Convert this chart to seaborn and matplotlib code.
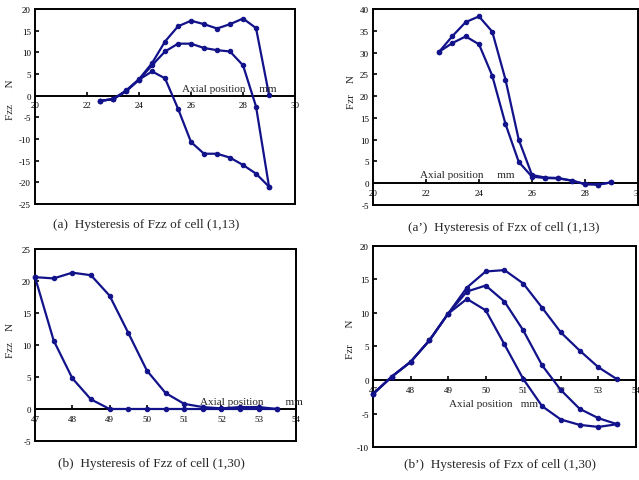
import matplotlib
matplotlib.use("Agg")
import matplotlib.pyplot as plt
import seaborn as sns
import pandas as pd

sns.set_theme(style="white")
plt.rcParams['font.family'] = ['Liberation Serif', 'DejaVu Serif']

# ---------------- data ----------------
# (a) Fzz of cell (1,13)
a_x_up = [22.5, 23, 23.5, 24, 24.5, 25, 25.5, 26, 26.5, 27, 27.5, 28, 28.5, 29]
a_y_up = [-1.2, -0.8, 1.2, 3.8, 7.5, 12.5, 16.0, 17.3, 16.5, 15.5, 16.5, 17.8, 15.6, 0.2]
a_x_mid = [22.5, 23, 23.5, 24, 24.5, 25, 25.5, 26, 26.5, 27, 27.5, 28, 28.5, 29]
a_y_mid = [-1.2, -0.8, 1.0, 3.7, 7.0, 10.2, 12.0, 12.0, 11.0, 10.5, 10.2, 7.0, -2.5, -21.0]
a_x_low = [22.5, 23, 23.5, 24, 24.5, 25, 25.5, 26, 26.5, 27, 27.5, 28, 28.5, 29]
a_y_low = [-1.2, -0.8, 1.0, 3.7, 5.6, 4.0, -3.0, -10.7, -13.4, -13.4, -14.3, -16.0, -18.0, -21.0]

# (a') Fzx of cell (1,13)
ap_x_up = [22.5, 23, 23.5, 24, 24.5, 25, 25.5, 26, 26.5, 27, 27.5, 28, 28.5, 29]
ap_y_up = [30.2, 33.8, 37.0, 38.3, 34.8, 23.8, 10.0, 1.9, 1.3, 1.2, 0.6, -0.2, -0.3, 0.2]
ap_x_low = [22.5, 23, 23.5, 24, 24.5, 25, 25.5, 26, 26.5, 27, 27.5, 28, 28.5, 29]
ap_y_low = [30.2, 32.2, 33.7, 31.9, 24.7, 13.6, 4.9, 1.5, 1.2, 1.1, 0.6, -0.2, -0.3, 0.2]

# (b) Fzz of cell (1,30)
b_x_up = [47, 47.5, 48, 48.5, 49, 49.5, 50, 50.5, 51, 51.5, 52, 52.5, 53, 53.5]
b_y_up = [20.6, 20.4, 21.3, 20.9, 17.7, 11.9, 6.0, 2.5, 0.8, 0.3, 0.1, 0.3, 0.3, 0.0]
b_x_low = [47, 47.5, 48, 48.5, 49, 49.5, 50, 50.5, 51, 51.5, 52, 52.5, 53, 53.5]
b_y_low = [20.6, 10.7, 4.8, 1.5, 0.0, 0.0, 0.0, 0.0, 0.0, 0.0, 0.0, 0.0, 0.0, 0.0]

# (b') Fzx of cell (1,30)
bp_x_up = [47, 47.5, 48, 48.5, 49, 49.5, 50, 50.5, 51, 51.5, 52, 52.5, 53, 53.5]
bp_y_up = [-2.1, 0.5, 2.7, 5.9, 9.9, 13.8, 16.2, 16.4, 14.4, 10.8, 7.1, 4.4, 1.9, 0.1]
bp_x_mid = [47, 47.5, 48, 48.5, 49, 49.5, 50, 50.5, 51, 51.5, 52, 52.5, 53, 53.5]
bp_y_mid = [-2.1, 0.5, 2.7, 5.9, 9.9, 13.2, 14.1, 11.7, 7.4, 2.2, -1.5, -4.3, -5.7, -6.6]
bp_x_low = [47, 47.5, 48, 48.5, 49, 49.5, 50, 50.5, 51, 51.5, 52, 52.5, 53, 53.5]
bp_y_low = [-2.1, 0.5, 2.7, 5.9, 9.9, 12.1, 10.4, 5.3, 0.15, -3.9, -5.9, -6.7, -7.0, -6.6]

a_xticks = [20, 22, 24, 26, 28, 30]
a_yticks = [-25, -20, -15, -10, -5, 0, 5, 10, 15, 20]
ap_yticks = [-5, 0, 5, 10, 15, 20, 25, 30, 35, 40]
b_xticks = [47, 48, 49, 50, 51, 52, 53, 54]
b_yticks = [-5, 0, 5, 10, 15, 20, 25]
bp_yticks = [-10, -5, 0, 5, 10, 15, 20]

captions = ["(a)  Hysteresis of Fzz of cell (1,13)",
            "(a\u2019)  Hysteresis of Fzx of cell (1,13)",
            "(b)  Hysteresis of Fzz of cell (1,30)",
            "(b\u2019)  Hysteresis of Fzx of cell (1,30)"]
ylabels = ["Fzz      N", "Fzr    N", "Fzz    N", "Fzr      N"]
xlabel_txt = ["Axial position     mm", "Axial position     mm",
              "Axial position        mm", "Axial position   mm"]

COL = "#12128a"

fig = plt.figure(figsize=(6.39, 4.81), dpi=100)
rects = [[0.0548, 0.5738, 0.4069, 0.4054],
         [0.5837, 0.5717, 0.4147, 0.4075],
         [0.0548, 0.0811, 0.4085, 0.3992],
         [0.5837, 0.0686, 0.4116, 0.4179]]

panels = [
    ([(a_x_up, a_y_up), (a_x_mid, a_y_mid), (a_x_low, a_y_low)], (20, 30), (-25, 20), a_xticks, a_yticks),
    ([(ap_x_up, ap_y_up), (ap_x_low, ap_y_low)], (20, 30), (-5, 40), a_xticks, ap_yticks),
    ([(b_x_up, b_y_up), (b_x_low, b_y_low)], (47, 54), (-5, 25), b_xticks, b_yticks),
    ([(bp_x_up, bp_y_up), (bp_x_mid, bp_y_mid), (bp_x_low, bp_y_low)], (47, 54), (-10, 20), b_xticks, bp_yticks),
]
ylab_pos = [(-0.078, 0.54), (-0.065, 0.58), (-0.078, 0.53), (-0.07, 0.54)]
xlab_pos = [(0.565, 0.59), (0.177, 0.158), (0.632, 0.208), (0.289, 0.214)]
cap_pos = [(0.229, 0.532), (0.788, 0.526), (0.237, 0.036), (0.782, 0.034)]

for i, (curves, xl, yl, xt, yt) in enumerate(panels):
    ax = fig.add_axes(rects[i])
    for j, (xs, ys) in enumerate(curves):
        df = pd.DataFrame({"x": xs, "y": ys})
        sns.lineplot(data=df, x="x", y="y", ax=ax, sort=False, estimator=None,
                     color=COL, lw=1.6, marker="o", markersize=3.2,
                     markeredgecolor=COL, clip_on=False, zorder=3)
    ax.set_xlim(*xl)
    ax.set_ylim(*yl)
    for s in ["left", "right", "top", "bottom"]:
        ax.spines[s].set_visible(True)
        ax.spines[s].set_color("black")
        ax.spines[s].set_linewidth(1.4)
    ax.spines["bottom"].set_position(("data", 0))
    ax.set_xticks(xt)
    ax.set_yticks(yt)
    ax.set_xticklabels([str(v) for v in xt])
    ax.set_yticklabels([str(v) for v in yt])
    ax.axhline(yl[0], color="black", lw=1.4, clip_on=False, zorder=4)
    ax.tick_params(axis="x", direction="in", length=3, width=1.2, pad=4,
                   bottom=True, colors="black", labelsize=6.5)
    ax.tick_params(axis="y", direction="in", length=3, width=1.2, pad=3,
                   left=True, colors="black", labelsize=6.5)
    ax.set_xlabel("")
    ax.set_ylabel(ylabels[i], fontsize=8)
    ax.yaxis.set_label_coords(*ylab_pos[i])
    ax.text(xlab_pos[i][0], xlab_pos[i][1], xlabel_txt[i], transform=ax.transAxes,
            fontsize=8, ha="left", va="center")
    ax.grid(False)
    fig.text(cap_pos[i][0], cap_pos[i][1], captions[i], fontsize=9.5,
             ha="center", va="center")

fig.savefig("out.png", dpi=100)
